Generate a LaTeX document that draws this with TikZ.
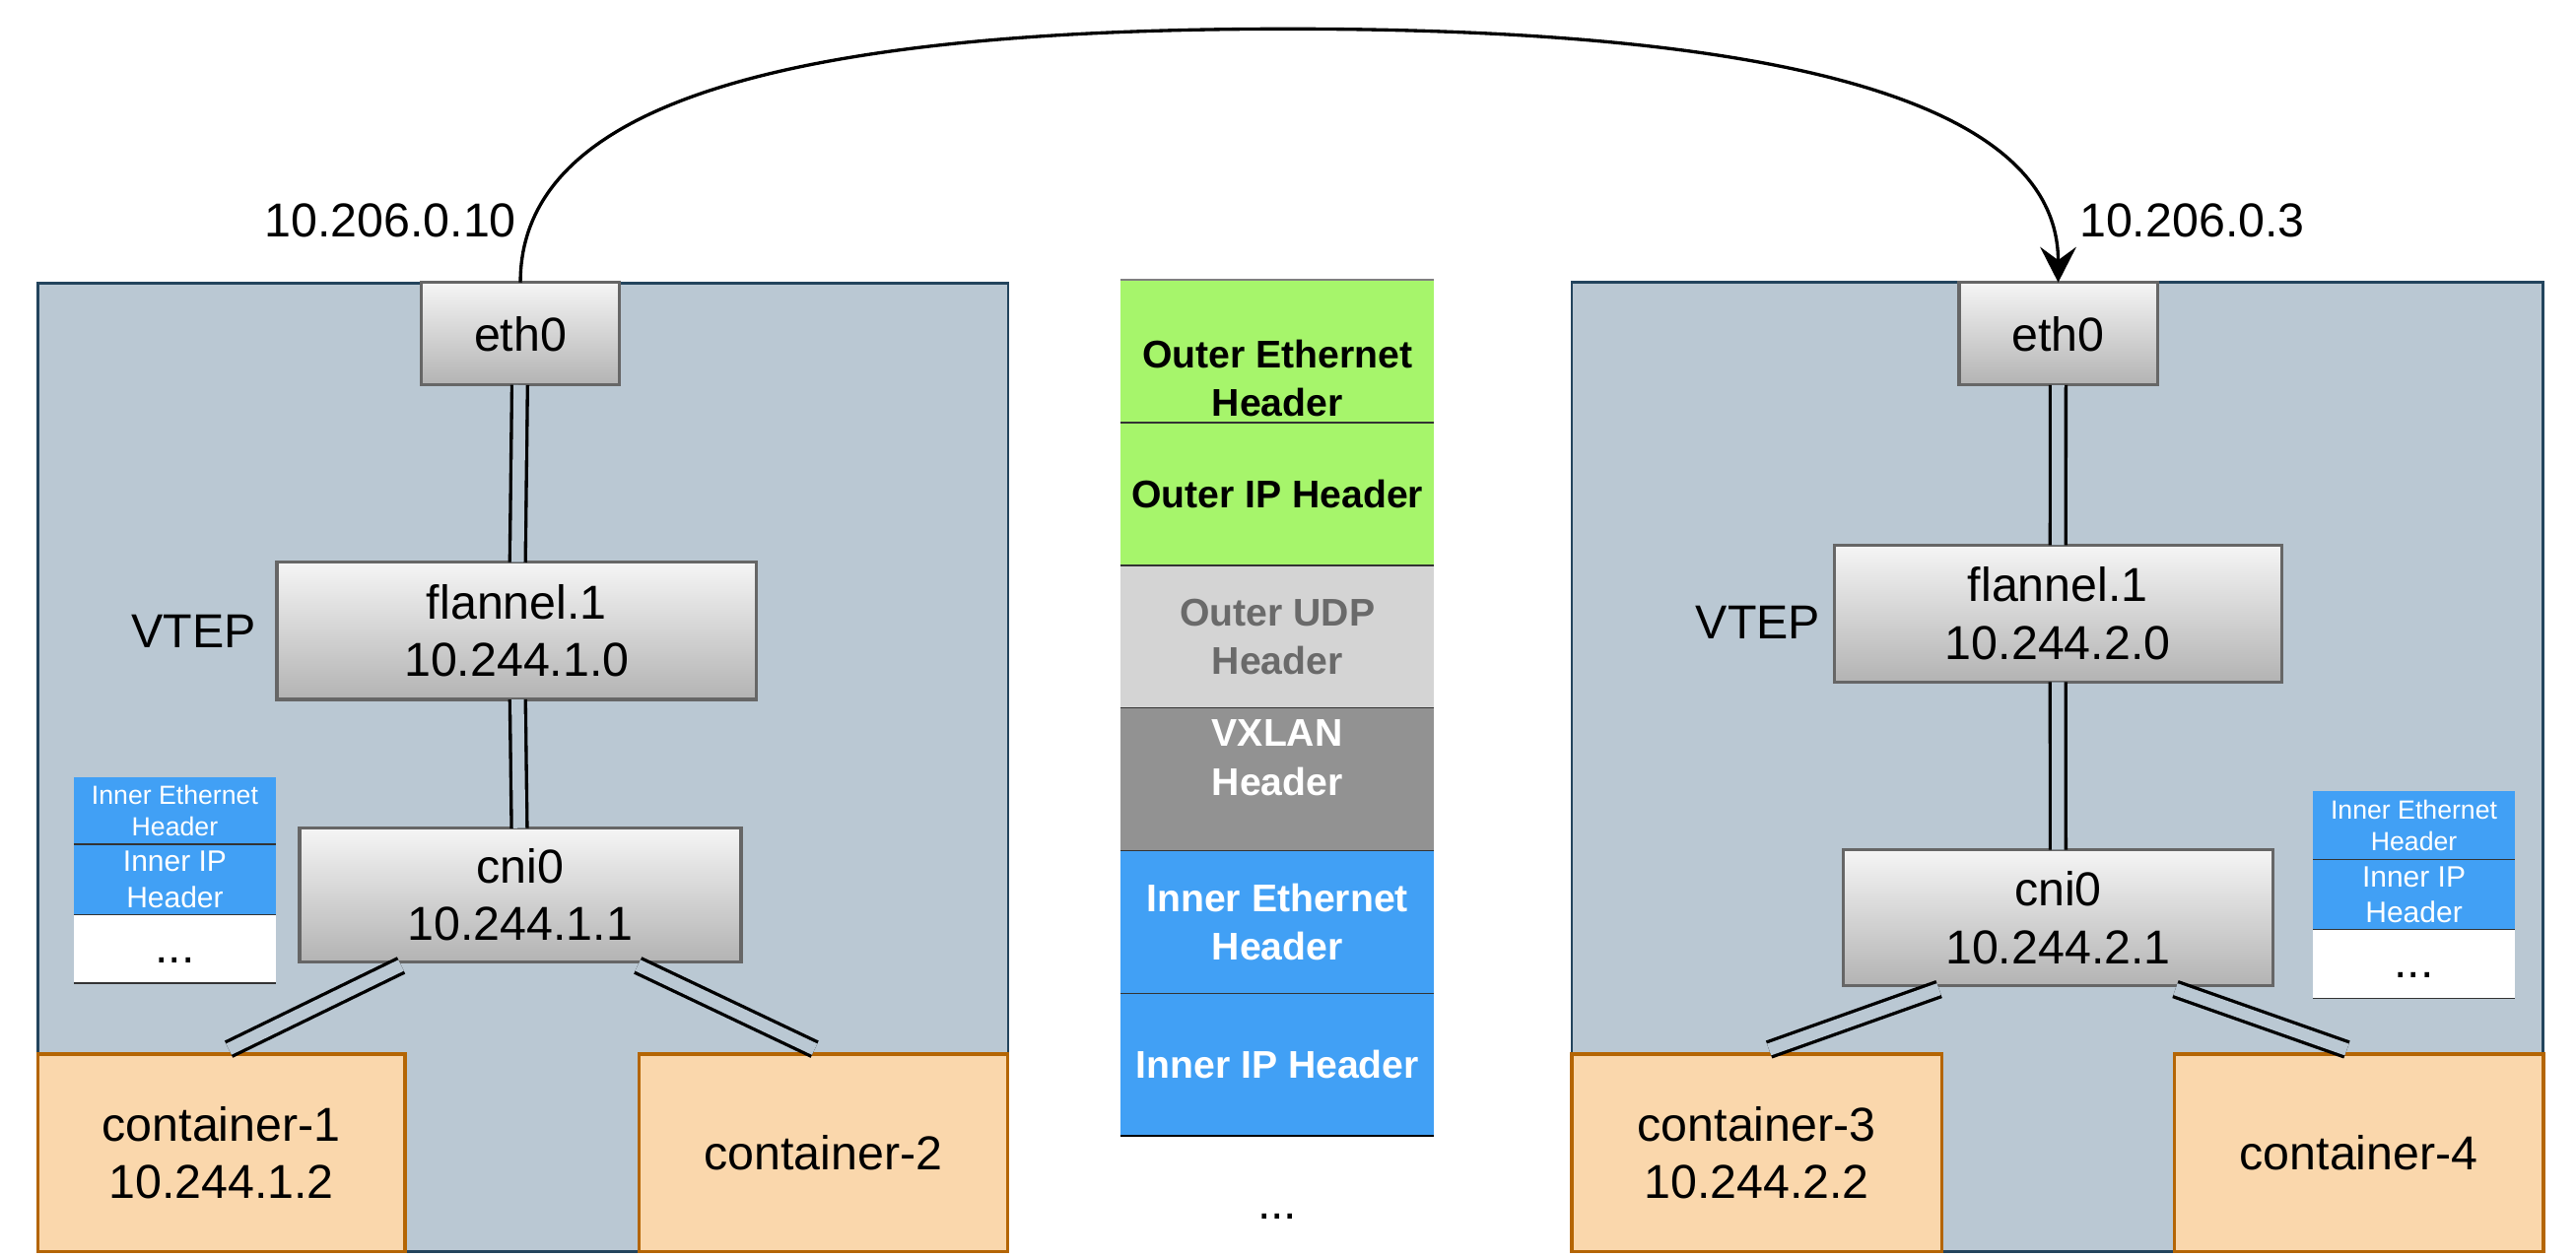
\documentclass[tikz,border=0pt]{standalone}
\usepackage{fontspec}
\setmainfont{Liberation Sans}
\usetikzlibrary{arrows.meta}
\definecolor{hostfill}{HTML}{BAC8D3}
\definecolor{hostline}{HTML}{23445D}
\definecolor{ctfill}{HTML}{FAD7AC}
\definecolor{ctline}{HTML}{B46504}
\definecolor{gtop}{HTML}{F5F5F5}
\definecolor{gbot}{HTML}{B3B3B3}
\definecolor{gline}{HTML}{666666}
\definecolor{hgreen}{HTML}{A6F56B}
\definecolor{hlgray}{HTML}{D4D4D4}
\definecolor{hdgray}{HTML}{929292}
\definecolor{hblue}{HTML}{41A0F5}
\definecolor{udptext}{HTML}{6A6A6A}
\definecolor{sepline}{HTML}{333333}
\definecolor{topline}{HTML}{808080}
\begin{document}
\begin{tikzpicture}[x=1pt,y=-1pt,
  every node/.style={inner sep=0pt, outer sep=0pt},
  bigfont/.style={font=\fontsize{29}{35}\selectfont},
  host/.style={draw=hostline, fill=hostfill, line width=1.6pt},
  dev/.style={draw=gline, top color=gtop, bottom color=gbot, line width=2pt, align=center, bigfont},
  ctr/.style={draw=ctline, fill=ctfill, line width=2pt, align=center, bigfont, minimum height=120.4pt},
  link/.style={draw=black, double=hostfill, line width=2pt, double distance=7.5pt},
  hdr/.style={minimum width=191pt, minimum height=86.87pt, align=center, font=\fontsize{23.5}{29.6}\selectfont\bfseries},
  hdrtext/.style={align=center, font=\fontsize{23.5}{29.6}\selectfont\bfseries},
  mini/.style={minimum width=123pt, align=center, text=white},
  sepl/.style={draw=sepline, line width=0.9pt},
  arcline/.style={line width=2pt, -{Stealth[length=21.6pt,width=22pt,inset=8pt]}}
]
\useasboundingbox (0,0) rectangle (1568,765);
\fill[white] (0,0) rectangle (1568,765);

% hosts
\node[host, minimum width=590.7pt, minimum height=589.7pt] (hostL) at (318.25,467.15) {};
\node[host, minimum width=591.1pt, minimum height=590pt] (hostR) at (1252.35,467) {};

% left host devices
\node[dev, minimum width=120.3pt, minimum height=62.4pt] (ethL) at (316.75,203.2) {eth0};
\node[dev, minimum width=291.9pt, minimum height=83.6pt] (flL) at (314.55,384.1) {flannel.1\\10.244.1.0};
\node[dev, minimum width=268.7pt, minimum height=81.3pt] (cniL) at (316.65,544.95) {cni0\\10.244.1.1};
\node[ctr, minimum width=223.7pt] (c1) at (134.75,702) {container-1\\10.244.1.2};
\node[ctr, minimum width=224.5pt] (c2) at (501.05,702) {container-2};
\node[bigfont, anchor=east] (vtepL) at (155.8,384.6) {VTEP};

% right host devices
\node[dev, minimum width=120.8pt, minimum height=62.4pt] (ethR) at (1252.8,203.2) {eth0};
\node[dev, minimum width=272.4pt, minimum height=83.4pt] (flR) at (1252.6,373.6) {flannel.1\\10.244.2.0};
\node[dev, minimum width=261.9pt, minimum height=82.8pt] (cniR) at (1252.75,558.9) {cni0\\10.244.2.1};
\node[ctr, minimum width=225pt] (c3) at (1069.3,702) {container-3\\10.244.2.2};
\node[ctr, minimum width=224.6pt] (c4) at (1435.8,702) {container-4};
\node[bigfont, anchor=east] (vtepR) at (1108,379) {VTEP};

% links
\draw[link] (ethL) -- (flL);
\draw[link] (flL) -- (cniL);
\draw[link] ([xshift=-72.5pt,yshift=-2.2pt]cniL.south) -- ([xshift=4.5pt,yshift=2.9pt]c1.north);
\draw[link] ([xshift=71.6pt,yshift=-2.2pt]cniL.south) -- ([xshift=-5.2pt,yshift=2.9pt]c2.north);
\draw[link] (ethR) -- (flR);
\draw[link] (flR) -- (cniR);
\draw[link] ([xshift=-72.5pt,yshift=-2pt]cniR.south) -- ([xshift=7.5pt,yshift=2.7pt]c3.north);
\draw[link] ([xshift=71.4pt,yshift=-2pt]cniR.south) -- ([xshift=-7.3pt,yshift=2.7pt]c4.north);

% left mini stack
\node[mini, fill=hblue, minimum height=41.2pt, font=\fontsize{16}{19.6}\selectfont] (mL1) at (106.45,493.6) {Inner Ethernet\\Header};
\node[mini, fill=hblue, minimum height=42.7pt, font=\fontsize{18}{21.7}\selectfont] (mL2) at (106.45,535.55) {Inner IP\\Header};
\node[mini, fill=white, minimum height=41.6pt] (mL3) at (106.45,577.7) {};
\node[bigfont, anchor=base] (mL3t) at (106.45,586.5) {...};
\draw[sepl] (mL1.south west) -- (mL1.south east);
\draw[sepl] (mL2.south west) -- (mL2.south east);
\draw[sepl] (mL3.south west) -- (mL3.south east);

% right mini stack
\node[mini, fill=hblue, minimum height=41.6pt, font=\fontsize{16}{19.6}\selectfont] (mR1) at (1469.35,502.7) {Inner Ethernet\\Header};
\node[mini, fill=hblue, minimum height=42.4pt, font=\fontsize{18}{21.7}\selectfont] (mR2) at (1469.35,544.7) {Inner IP\\Header};
\node[mini, fill=white, minimum height=42pt] (mR3) at (1469.35,586.9) {};
\node[bigfont, anchor=base] (mR3t) at (1469.35,595.5) {...};
\draw[sepl] (mR1.south west) -- (mR1.south east);
\draw[sepl] (mR2.south west) -- (mR2.south east);
\draw[sepl] (mR3.south west) -- (mR3.south east);

% center header stack
\node[hdr, fill=hgreen] (r1) at (777.5,213.935) {};
\node[hdrtext, text=black] (r1t) at (777.5,230.3) {Outer Ethernet\\Header};
\node[hdr, fill=hgreen, text=black] (r2) at (777.5,300.805) {Outer IP Header};
\node[hdr, fill=hlgray, text=udptext] (r3) at (777.5,387.675) {Outer UDP\\Header};
\node[hdr, fill=hdgray] (r4) at (777.5,474.545) {};
\node[hdrtext, text=white] (r4t) at (777.5,461.4) {VXLAN\\Header};
\node[hdr, fill=hblue, text=white] (r5) at (777.5,561.415) {Inner Ethernet\\Header};
\node[hdr, fill=hblue, text=white] (r6) at (777.5,648.285) {Inner IP Header};
\draw[draw=topline, line width=0.9pt] (r1.north west) -- (r1.north east);
\draw[sepl] (r1.south west) -- (r1.south east);
\draw[sepl] (r2.south west) -- (r2.south east);
\draw[sepl] (r3.south west) -- (r3.south east);
\draw[sepl] (r4.south west) -- (r4.south east);
\draw[sepl] (r5.south west) -- (r5.south east);
\draw[draw=black, line width=1pt] (r6.south west) -- (r6.south east);
\node[bigfont, anchor=base] (dots) at (777.5,742.5) {...};

% IP labels
\node[bigfont, anchor=base west] (ipL) at (161,144) {10.206.0.10};
\node[bigfont, anchor=base west] (ipR) at (1265.8,144) {10.206.0.3};

% arc
\coordinate (apex) at (784,17.6);
\draw[arcline] (ethL.north) .. controls +(0,-105) and +(-318,0) .. (apex) .. controls +(318,0) and +(0,-105) .. (ethR.north);
\end{tikzpicture}
\end{document}
